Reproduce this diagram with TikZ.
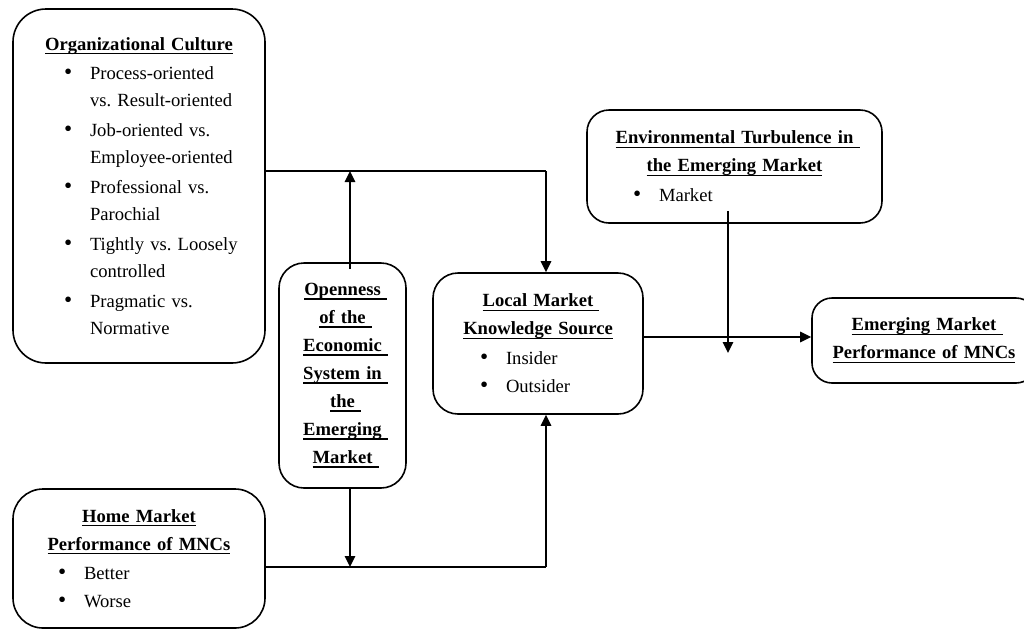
\documentclass[tikz,border=0pt]{standalone}
\usepackage{fontspec}
\setmainfont{Liberation Serif}
\usepackage{tikz}
\usetikzlibrary{arrows.meta}
\tikzset{
    base/.style={draw, line width=1.6pt, align=center, inner sep=0pt, font=\fontsize{18.6}{28}\selectfont},
    box/.style={base, rectangle, rounded corners=25pt},
    arrow/.style={-{Triangle[length=11pt, width=10.5pt]}, line width=1.6pt},
    line/.style={draw, line width=1.6pt}
}
\newcommand{\ul}[1]{\setbox0\hbox{#1}\rlap{\rule[-4pt]{\wd0}{1.3pt}}\box0}
\newcommand{\uls}[1]{\setbox0\hbox{#1\ }\rlap{\rule[-4pt]{\wd0}{1.3pt}}#1}
\newcommand{\bul}[2]{\makebox[\linewidth][l]{\hspace*{#1}\makebox[26pt][l]{\scalebox{1.25}{\textbullet}}#2}}
\newcommand{\bulcont}[2]{\makebox[\linewidth][l]{\hspace*{#1}\hspace*{26pt}#2}}
\frenchspacing

\begin{document}
\begin{tikzpicture}[x=1pt, y=-1pt]
    \useasboundingbox (0,0) rectangle (1024,630);

    % Boxes
    \node[box, rounded corners=33pt, text width=252pt, minimum height=354pt] (culture) at (139,186) {%
        \textbf{\ul{Organizational Culture}}\\[1pt]
        \bul{51pt}{Process-oriented}\\[-1pt]
        \bulcont{51pt}{vs. Result-oriented}\\[2pt]
        \bul{51pt}{Job-oriented vs.}\\[-1pt]
        \bulcont{51pt}{Employee-oriented}\\[2pt]
        \bul{51pt}{Professional vs.}\\[-1pt]
        \bulcont{51pt}{Parochial}\\[2pt]
        \bul{51pt}{Tightly vs. Loosely}\\[-1pt]
        \bulcont{51pt}{controlled}\\[2pt]
        \bul{51pt}{Pragmatic vs.}\\[-1pt]
        \bulcont{51pt}{Normative}};

    \node[box, text width=127pt, minimum height=225pt] (open) at (342.5,375.5) {%
        \textbf{\uls{Openness}}\\
        \textbf{\uls{of the}}\\
        \textbf{\uls{Economic}}\\
        \textbf{\uls{System in}}\\
        \textbf{\uls{the}}\\
        \textbf{\uls{Emerging}}\\
        \textbf{\uls{Market}}};

    \node[box, text width=210pt, minimum height=141pt] (local) at (538,343.5) {%
        \textbf{\uls{Local Market}}\\
        \textbf{\ul{Knowledge Source}}\\[2pt]
        \bul{47pt}{Insider}\\
        \bul{47pt}{Outsider}};

    \node[box, rounded corners=22pt, text width=295pt, minimum height=113pt] (env) at (734.5,166.5) {%
        \textbf{\uls{Environmental Turbulence in}}\\
        \textbf{\ul{the Emerging Market}}\\[2pt]
        \bul{46pt}{Market}};

    \node[box, rounded corners=20pt, text width=224pt, minimum height=85pt] (emerge) at (924,340.5) {%
        \textbf{\uls{Emerging Market}}\\
        \textbf{\ul{Performance of MNCs}}};

    \node[box, rounded corners=30pt, text width=252pt, minimum height=139pt] (home) at (139,558.5) {%
        \textbf{\ul{Home Market}}\\
        \textbf{\ul{Performance of MNCs}}\\[1pt]
        \bul{45pt}{Better}\\
        \bul{45pt}{Worse}};

    % Bends of the connectors
    \coordinate (upper) at (546,171);
    \coordinate (lower) at (546,567);
    \coordinate (outlevel) at (0,337);
    \coordinate (modtip) at (728,353);
    \path ([xshift=7.5pt, yshift=-7pt]open.north) coordinate (opentop);
    \path ([xshift=7.5pt]open.south) coordinate (openbot);
    \path (modtip |- env.south) ++(0,-13) coordinate (modtop);

    % Connectors
    \draw[line] (culture.east |- upper) -- (upper);
    \draw[arrow] (upper) -- (upper |- local.north);
    \draw[arrow] (opentop) -- (opentop |- upper);
    \draw[arrow] (openbot) -- (openbot |- lower);
    \draw[line] (home.east |- lower) -- (lower);
    \draw[arrow] (lower) -- (lower |- local.south);
    \draw[arrow] (local.east |- outlevel) -- (emerge.west |- outlevel);
    \draw[arrow] (modtop) -- (modtip);
\end{tikzpicture}
\end{document}
